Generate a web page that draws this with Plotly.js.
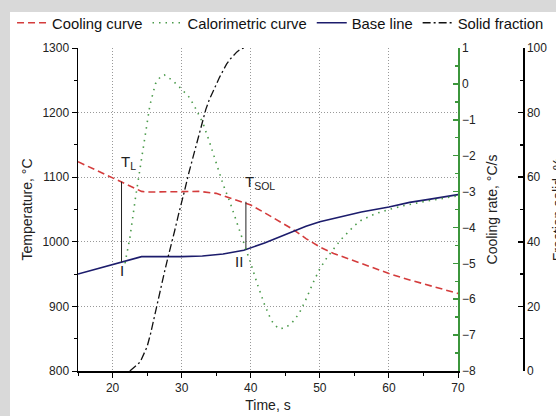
<!DOCTYPE html>
<html>
<head>
<meta charset="utf-8">
<script src="https://cdn.plot.ly/plotly-3.0.1.min.js"></script>
<style>
html,body{margin:0;padding:0;background:#d9d9d9;width:556px;height:416px;overflow:hidden;position:relative;}
#chart{position:absolute;left:10px;top:12px;width:556px;height:404px;background:#fff;}
</style>
</head>
<body>
<div id="chart"></div>
<script>
// Cooling curve (Temperature, °C)
const coolTime = [15, 20, 24.2, 25, 30, 32.5, 35, 37, 40, 42, 44, 46, 48, 50, 52, 55, 58, 60, 62, 65, 68, 70];
const coolTemp = [1124, 1099, 1078, 1077, 1078, 1078, 1075, 1068, 1057, 1045, 1032, 1020, 1005, 992, 982, 970, 958, 951, 944, 935, 926, 920];

// Base line (Temperature, °C)
const baseTime = [15, 20, 21.3, 24.2, 30, 33, 36, 39, 42, 44, 46, 48, 50, 53, 56, 60, 63, 66, 70];
const baseTemp = [950, 965, 969, 977, 977, 978, 981, 987, 998, 1007, 1016, 1024, 1031, 1039, 1046, 1054, 1061, 1066, 1073];

// Calorimetric curve (Cooling rate, °C/s)
const calTime = [21.8, 22.5, 23.3, 24, 24.7, 25.4, 26.2, 27, 27.5, 28.5, 29.5, 30.3, 31, 31.8, 32.5, 33.1, 34, 35, 36, 37, 38, 39, 40, 41, 42, 43, 44, 45, 46, 47, 48, 49, 50, 51, 52, 53, 54, 55, 56, 57, 58, 60, 62, 65, 68, 70];
const calRate = [-5.0, -4.3, -3.2, -2.3, -1.4, -0.6, 0.0, 0.22, 0.25, 0.12, -0.05, -0.2, -0.35, -0.6, -0.85, -1.1, -1.6, -2.2, -2.8, -3.3, -3.85, -4.45, -5.0, -5.6, -6.15, -6.6, -6.82, -6.8, -6.65, -6.4, -6.0, -5.55, -5.15, -4.85, -4.6, -4.35, -4.15, -3.95, -3.8, -3.7, -3.62, -3.5, -3.4, -3.28, -3.18, -3.12];

// Solid fraction (%)
const fsTime = [22.5, 23, 23.5, 24, 24.5, 25, 25.5, 26, 26.5, 27, 27.5, 28, 28.5, 29, 29.5, 30, 30.5, 31, 31.5, 32, 32.5, 33, 33.5, 34, 34.5, 35, 35.5, 36, 36.5, 37, 37.5, 38, 38.5, 39];
const fsFrac = [0, 0.8, 1.8, 2.8, 5, 7.5, 11.5, 16.5, 21.5, 26, 30.5, 35, 39, 43.5, 48, 52, 56.5, 61, 65, 69, 73, 77.5, 81, 84, 86.5, 89, 91, 93, 95, 96.5, 97.8, 98.8, 99.6, 100];

// Characteristic points
const markTime = [21.3, 39.3];
const markLow = [969, 988];
const markHigh = [1093, 1062];
const markTopLabels = ['T<sub>L</sub>', 'T<sub>SOL</sub>'];
const markTopX = [21.0, 38.9];
const markTopY = [1122, 1092];
const markBottomLabels = ['I', 'II'];
const markBottomX = [21.3, 38.3];
const markBottomY = [955, 969];

const seriesNames = ['Cooling curve', 'Calorimetric curve', 'Base line', 'Solid fraction'];

const green = '#3c963c';
const traces = [
  {x: coolTime, y: coolTemp, name: seriesNames[0], mode: 'lines', line: {color: '#d43c3c', width: 1.6, dash: '7px,4px'}, yaxis: 'y'},
  {x: calTime, y: calRate, name: seriesNames[1], mode: 'lines', line: {color: '#4a9a4a', width: 1.6, dash: '1.5px,5px'}, yaxis: 'y2'},
  {x: baseTime, y: baseTemp, name: seriesNames[2], mode: 'lines', line: {color: '#1c1c6c', width: 1.6}, yaxis: 'y'},
  {x: fsTime, y: fsFrac, name: seriesNames[3], mode: 'lines', line: {color: '#111', width: 1.3, dash: '8px,3px,2px,3px'}, yaxis: 'y3'}
];
markTime.forEach(function (t, i) {
  traces.push({x: [t, t], y: [markLow[i], markHigh[i]], mode: 'lines', line: {color: '#222', width: 1}, showlegend: false, hoverinfo: 'skip', yaxis: 'y'});
});

const annotations = [];
markTopLabels.forEach(function (txt, i) {
  annotations.push({x: markTopX[i], y: markTopY[i], xref: 'x', yref: 'y', text: txt, showarrow: false, xanchor: 'left', yanchor: 'middle', font: {size: 15, color: '#222'}});
});
markBottomLabels.forEach(function (txt, i) {
  annotations.push({x: markBottomX[i], y: markBottomY[i], xref: 'x', yref: 'y', text: txt, showarrow: false, xanchor: 'center', yanchor: 'middle', font: {size: 15, color: '#222'}});
});

const layout = {
  width: 556, height: 404,
  margin: {l: 68, r: 10, t: 36, b: 45, autoexpand: false},
  paper_bgcolor: '#fff', plot_bgcolor: '#fff',
  font: {family: 'Liberation Sans, Arial, sans-serif', size: 12, color: '#222'},
  showlegend: true,
  legend: {orientation: 'h', x: -0.138, xanchor: 'left', y: 1.077, yanchor: 'middle', font: {size: 14.8, color: '#111'}, bgcolor: 'rgba(0,0,0,0)', tracegroupgap: 0, itemwidth: 30},
  xaxis: {
    domain: [0, 0.795], range: [15, 70], dtick: 10, tick0: 0,
    ticks: 'outside', ticklen: 5, tickwidth: 1, tickcolor: '#000',
    minor: {dtick: 5, ticks: 'outside', ticklen: 3, tickcolor: '#000', showgrid: false},
    showline: true, linecolor: '#000', linewidth: 1.5,
    showgrid: true, gridcolor: '#999', griddash: '1px,2px', gridwidth: 1, zeroline: false,
    title: {text: 'Time, s', font: {size: 14}, standoff: 6},
    tickfont: {size: 12}
  },
  yaxis: {
    range: [800, 1300], dtick: 100,
    ticks: 'outside', ticklen: 5, tickwidth: 1, tickcolor: '#000',
    minor: {dtick: 50, ticks: 'outside', ticklen: 3, tickcolor: '#000', showgrid: false},
    showline: true, linecolor: '#000', linewidth: 1.5,
    showgrid: true, gridcolor: '#999', griddash: '1px,2px', gridwidth: 1, zeroline: false,
    title: {text: 'Temperature, °C', font: {size: 14}, standoff: 6},
    tickfont: {size: 12}
  },
  yaxis2: {
    overlaying: 'y', side: 'right', anchor: 'x', range: [-8, 1], dtick: 1,
    ticks: 'inside', ticklen: 5, tickwidth: 1.5, tickcolor: green,
    minor: {dtick: 0.5, ticks: 'inside', ticklen: 3, tickcolor: green, showgrid: false},
    showline: true, linecolor: green, linewidth: 1.5,
    showgrid: false, zeroline: false,
    title: {text: 'Cooling rate, °C/s', font: {size: 14}, standoff: 12},
    tickfont: {size: 12}
  },
  yaxis3: {
    overlaying: 'y', side: 'right', anchor: 'free', position: 0.931, range: [0, 100], dtick: 20,
    ticks: 'inside', ticklen: 5, tickwidth: 1.5, tickcolor: '#000',
    minor: {dtick: 10, ticks: 'inside', ticklen: 3, tickcolor: '#000', showgrid: false},
    showline: true, linecolor: '#000', linewidth: 1.5,
    showgrid: false, zeroline: false,
    title: {text: 'Fraction solid, %', font: {size: 14}, standoff: 7},
    tickfont: {size: 12}
  },
  annotations: annotations
};

Plotly.newPlot('chart', traces, layout, {staticPlot: true, displayModeBar: false});
</script>
</body>
</html>
